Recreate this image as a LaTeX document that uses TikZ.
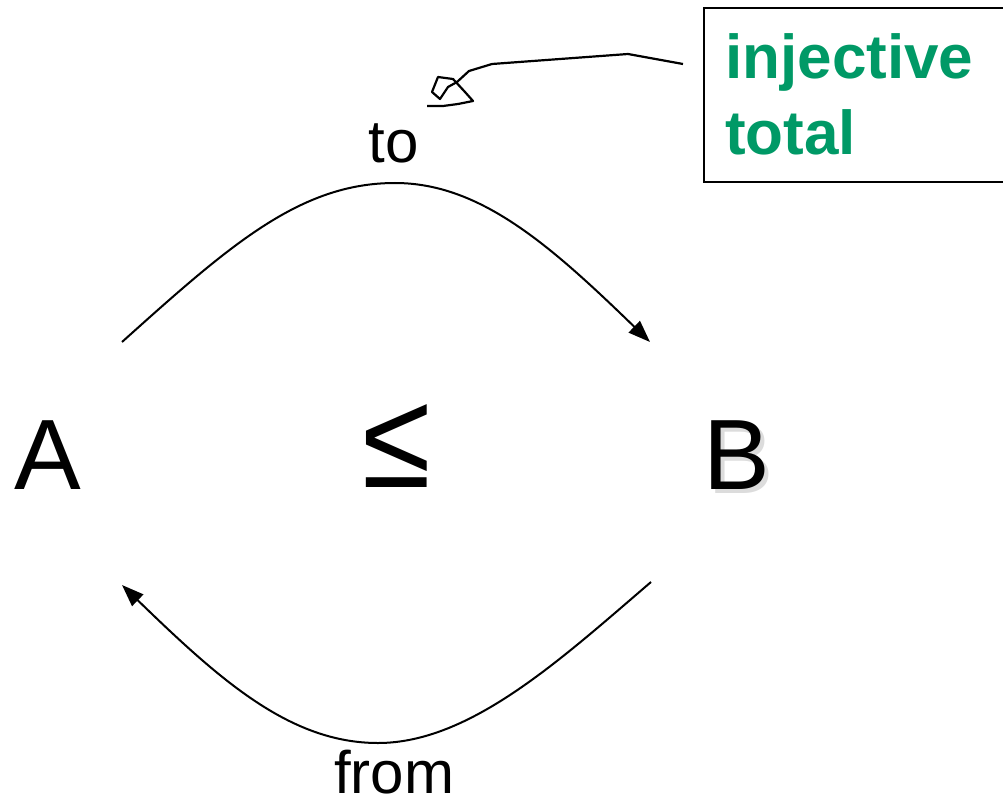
\documentclass[tikz,border=0pt]{standalone}
\usepackage{fontspec}
\setmainfont{Liberation Sans}
\usetikzlibrary{arrows.meta}
\definecolor{injgreen}{RGB}{0,153,102}
\definecolor{shadowgray}{RGB}{220,220,220}
\tikzset{
  big/.style={font=\fontsize{100}{100}\selectfont, inner sep=0pt},
  lbl/.style={font=\fontsize{60}{60}\selectfont, inner sep=0pt},
  conn/.style={line width=2pt, -{Triangle[length=22pt,width=16pt]}},
  note/.style={line width=2.2pt},
  notebox/.style={draw, line width=2.2pt, minimum width=310pt, minimum height=174pt, anchor=north west, inner sep=0pt},
  notetext/.style={font=\fontsize{62}{76}\selectfont\bfseries, text=injgreen, align=left, anchor=north west, inner sep=0pt}
}
\begin{document}
\begin{tikzpicture}[x=1pt,y=-1pt]
\useasboundingbox (0,0) rectangle (1003,805);
\begin{scope}
\clip (0,0) rectangle (1003,805);
\node[notebox] (box) at (703,7) {};
\end{scope}
\node[notetext] (inj) at (725,33) {injective\\total};
\node[big] (A) at (48,455) {A};
\node[big, text=shadowgray] (Bs) at (741,459) {B};
\node[big] (B) at (737,455) {B};
\node[big, xscale=1.25, yscale=1.38] (le) at (397,446) {≤};
\node[lbl, anchor=base] (to) at (394,163) {to};
\node[lbl, anchor=base] (from) at (394,793) {from};
\coordinate (As) at (122,342);
\coordinate (Be) at (650,342);
\coordinate (Bs2) at (651,582);
\coordinate (Ae) at (122,585);
\coordinate (pstart) at (683,64);
\coordinate (pend) at (427,106);
\draw[conn] (As) .. controls (230,245) and (300,183) .. (395,183) .. controls (480,183) and (550,245) .. (Be);
\draw[conn] (Bs2) .. controls (560,660) and (470,743) .. (378,743) .. controls (290,743) and (220,680) .. (Ae);
\draw[note, line join=round] (pstart) -- (628,54) -- (492,64) -- (469,71) -- (457,82) -- (448,87) -- (440,99) -- (432,92) -- (438,77) -- (453,79) -- (465,92) -- (473,101) -- (458,104) -- (443,106) -- (pend);
\end{tikzpicture}
\end{document}
